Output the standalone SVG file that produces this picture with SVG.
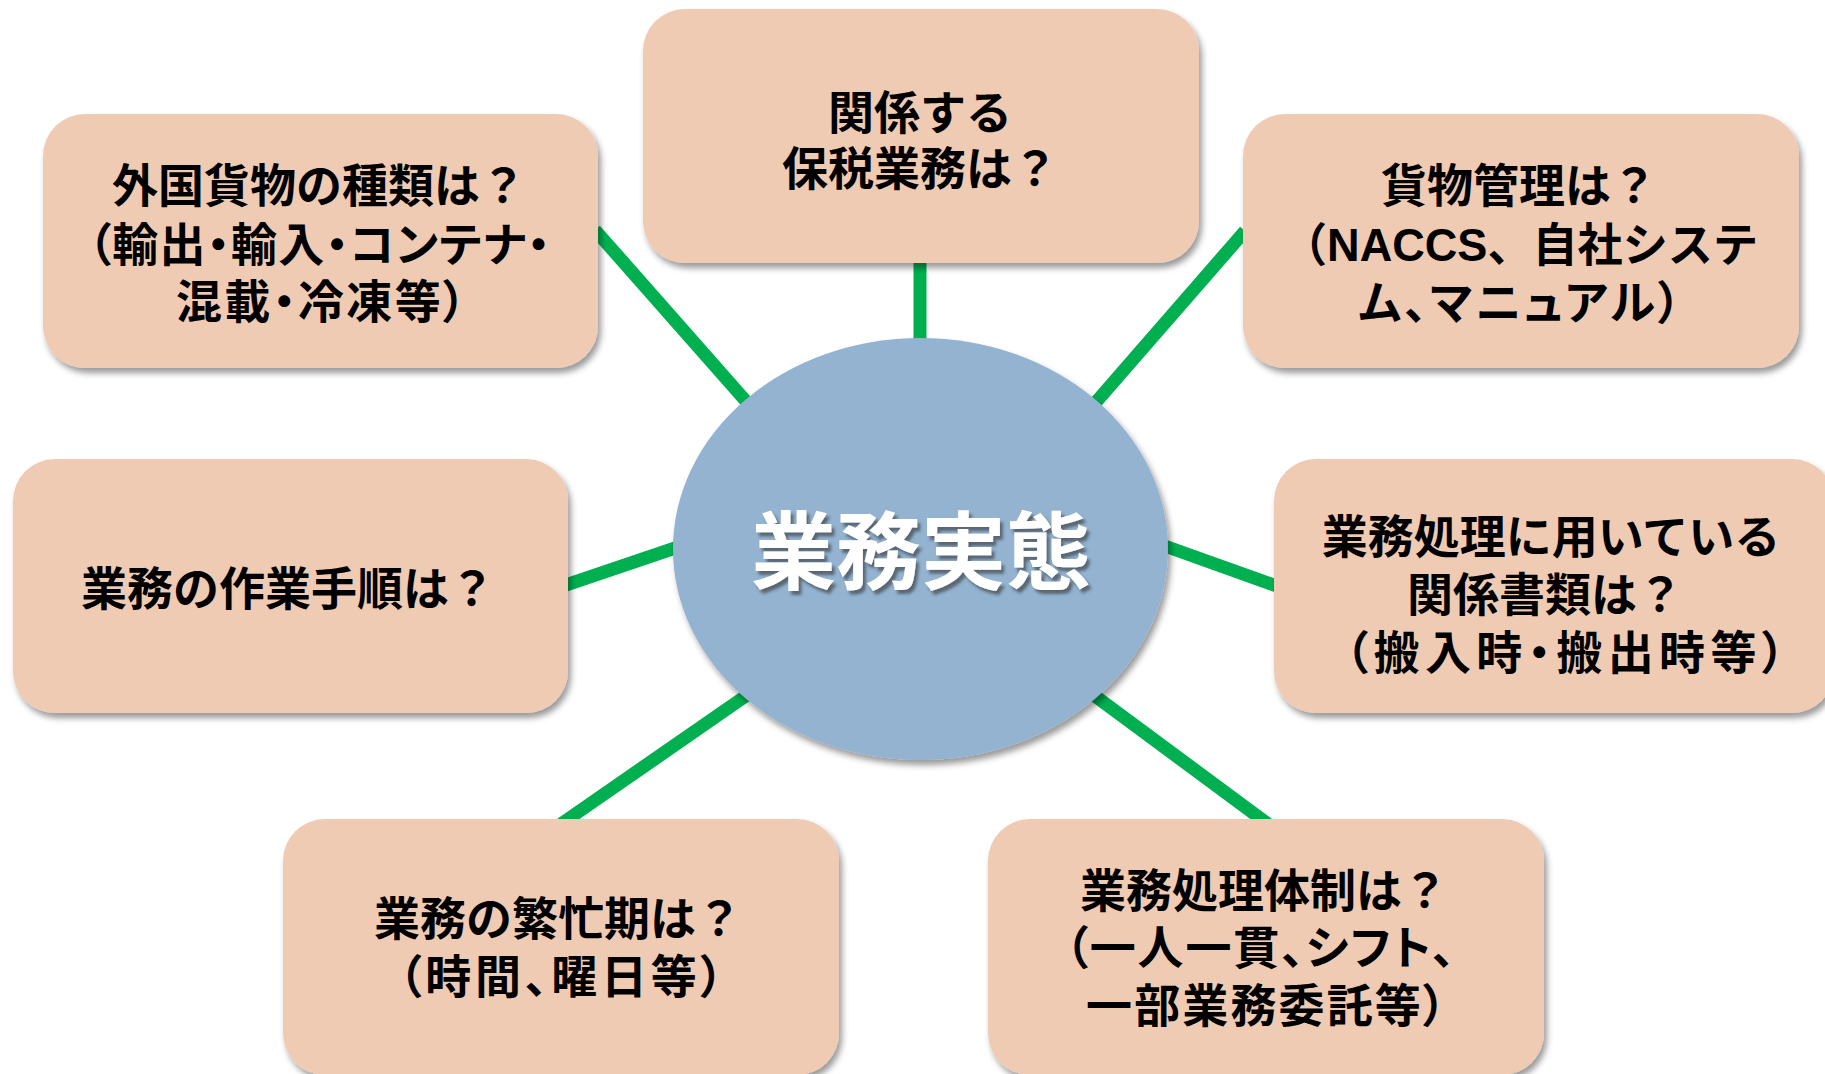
<svg xmlns="http://www.w3.org/2000/svg" width="1825" height="1074" viewBox="0 0 1825 1074">
  <style>
    .box { fill: #F0CBB3; filter: url(#shadow); }
    .hub { fill: #93B3D1; filter: url(#shadow); }
    .conn { stroke: #00B050; stroke-width: 13; fill: none; }
    .t { font-family: "Liberation Sans", "Noto Sans CJK JP", sans-serif; font-weight: 700; font-size: 46px; fill: #000; text-anchor: middle; }
    .p { font-feature-settings: "palt" 1; }
    .hubtext { font-family: "Liberation Sans", "Noto Sans CJK JP", sans-serif; font-weight: 700; font-size: 85px; fill: #FFFFFF; text-anchor: middle; filter: url(#tshadow); }
  </style>
  <defs>
    <filter id="shadow" x="-10%" y="-10%" width="125%" height="130%">
      <feDropShadow dx="3" dy="5" stdDeviation="3" flood-color="#000" flood-opacity="0.4"/>
    </filter>
    <filter id="tshadow" x="-10%" y="-20%" width="125%" height="150%">
      <feDropShadow dx="3" dy="4" stdDeviation="1.5" flood-color="#333" flood-opacity="0.6"/>
    </filter>
  </defs>
  <rect width="1825" height="1074" fill="#FFFFFF"/>

  <g id="connectors">
    <line class="conn" x1="920" y1="255" x2="920" y2="350"/>
    <line class="conn" x1="595" y1="230" x2="752" y2="408"/>
    <line class="conn" x1="1245" y1="231" x2="1090" y2="409"/>
    <line class="conn" x1="560" y1="587" x2="684" y2="545"/>
    <line class="conn" x1="1162" y1="545" x2="1285" y2="589"/>
    <line class="conn" x1="750" y1="693" x2="561" y2="824"/>
    <line class="conn" x1="1091" y1="693" x2="1268" y2="824"/>
  </g>

  <g id="hub">
    <ellipse class="hub" cx="920.5" cy="549" rx="247.5" ry="211"/>
    <text class="hubtext" x="921" y="583">業務実態</text>
  </g>

  <g id="node-hozei">
    <rect class="box" x="643" y="9" width="556" height="254" rx="42"/>
    <text class="t"><tspan x="920" y="129">関係する</tspan><tspan x="920" y="185">保税業務は？</tspan></text>
  </g>

  <g id="node-gaikoku">
    <rect class="box" x="43" y="114" width="555" height="254" rx="42"/>
    <text class="t"><tspan x="319" y="202">外国貨物の種類は？</tspan><tspan class="p" x="319" y="261" textLength="462" lengthAdjust="spacing">（輸出・輸入・コンテナ・</tspan><tspan class="p" x="321" y="318" textLength="290" lengthAdjust="spacing">混載・冷凍等）</tspan></text>
  </g>

  <g id="node-kamotsu">
    <rect class="box" x="1243" y="114" width="556" height="254" rx="42"/>
    <text class="t"><tspan x="1519" y="202">貨物管理は？</tspan><tspan x="1520" y="261" textLength="476" lengthAdjust="spacingAndGlyphs">（NACCS、自社システ</tspan><tspan class="p" x="1520" y="319" textLength="322" lengthAdjust="spacing">ム、マニュアル）</tspan></text>
  </g>

  <g id="node-sagyo">
    <rect class="box" x="13" y="459" width="555" height="254" rx="42"/>
    <text class="t" x="288" y="605">業務の作業手順は？</text>
  </g>

  <g id="node-shorui">
    <rect class="box" x="1274" y="459" width="560" height="254" rx="42"/>
    <text class="t"><tspan x="1551" y="553">業務処理に用いている</tspan><tspan x="1545" y="611">関係書類は？</tspan><tspan class="p" x="1565" y="669" textLength="440" lengthAdjust="spacing">（搬入時・搬出時等）</tspan></text>
  </g>

  <g id="node-hanbo">
    <rect class="box" x="283" y="819" width="556" height="256" rx="42"/>
    <text class="t"><tspan x="558" y="935">業務の繁忙期は？</tspan><tspan class="p" x="561" y="993" textLength="325" lengthAdjust="spacing">（時間、曜日等）</tspan></text>
  </g>

  <g id="node-taisei">
    <rect class="box" x="988" y="819" width="556" height="256" rx="42"/>
    <text class="t"><tspan x="1264" y="907">業務処理体制は？</tspan><tspan class="p" x="1260" y="964" textLength="390" lengthAdjust="spacing">（一人一貫、シフト、</tspan><tspan class="p" x="1266" y="1022" textLength="360" lengthAdjust="spacing">一部業務委託等）</tspan></text>
  </g>
</svg>
